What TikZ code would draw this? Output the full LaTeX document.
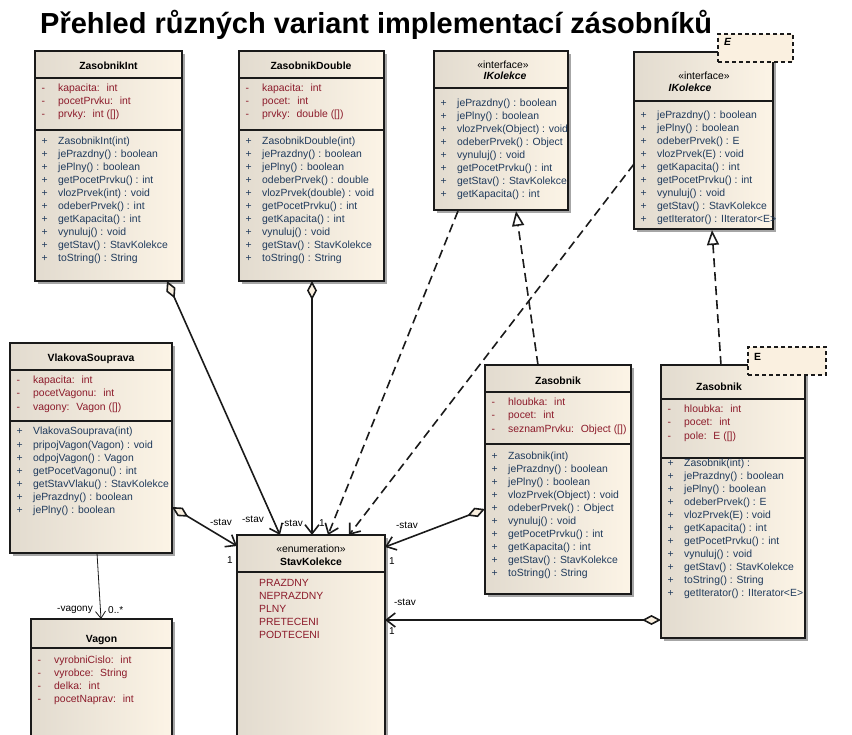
\documentclass[tikz,border=0pt]{standalone}
\usepackage{fontspec}
\setmainfont{Liberation Sans}
\usetikzlibrary{arrows.meta,shadows}
\definecolor{attrc}{HTML}{8C1A2A}
\definecolor{opc}{HTML}{1F3A5C}
\definecolor{boxl}{HTML}{E2DBCF}
\definecolor{boxr}{HTML}{FCF4E6}
\definecolor{cream}{HTML}{FAF0E0}
\definecolor{edge}{HTML}{1A1A1A}
\tikzset{
  classbox/.style={draw=edge, line width=1.6pt, left color=boxl, right color=boxr,
    inner sep=0pt, outer sep=0pt, anchor=north west,
    drop shadow={shadow xshift=3pt, shadow yshift=-3pt, fill=black!35, opacity=1}},
  tmplbox/.style={draw=edge, line width=1.1pt, dash pattern=on 4pt off 3pt, fill=cream,
    inner sep=0pt, outer sep=0pt, anchor=north west},
  sepline/.style={draw=edge, line width=1.6pt},
  member/.style={anchor=base west, inner sep=0pt, font=\fontsize{10.4}{12}\selectfont},
  cname/.style={anchor=base, inner sep=0pt, font=\fontsize{10.4}{12}\selectfont\bfseries},
  stereo/.style={anchor=base, inner sep=0pt, font=\fontsize{10.4}{12}\selectfont},
  lbl/.style={inner sep=0pt, font=\fontsize{10}{12}\selectfont},
  agg/.style={draw=edge, line width=1.6pt,
    arrows={Diamond[fill=cream,length=19pt,width=10pt]-Straight Barb[length=9pt,width=14pt]}},
  dep/.style={draw=edge, line width=1.6pt, dash pattern=on 9pt off 5pt,
    arrows={-Straight Barb[length=9pt,width=14pt]}},
  real/.style={draw=edge, line width=1.6pt, dash pattern=on 9pt off 5pt,
    arrows={-Triangle[open,length=15pt,width=12pt]}},
  nav/.style={draw=edge, line width=0.8pt, arrows={-Straight Barb[length=7pt,width=10pt]}},
}
\newcommand\mlist[6]{%
  \foreach \t [count=\i] in {#6} {
    \node[member, text=#4] (#1\i) at (#2, {#3+4+13*(\i-1)}) {\makebox[16.5pt][l]{#5}\t};
  }%
}
\begin{document}
\begin{tikzpicture}[x=1pt,y=-1pt]
\useasboundingbox (0,0) rectangle (852,735);
\clip (0,0) rectangle (852,735);

\node[anchor=base west, inner sep=0pt, font=\fontsize{29}{34}\selectfont\bfseries] (title) at (40,34)
  {Přehled různých variant implementací zásobníků};

% ZasobnikInt
\node[classbox, minimum width=147pt, minimum height=230pt] (zint) at (35,51) {};
\draw[sepline] (35,78) -- (182,78);
\draw[sepline] (35,130) -- (182,130);
\node[cname] (zint-n) at (108.5,70) {ZasobnikInt};
\mlist{zint-a}{41.5}{88}{attrc}{-}{kapacita:~ int, pocetPrvku:~ int, {prvky:~ int ([])}}
\mlist{zint-m}{41.5}{141}{opc}{+}{ZasobnikInt(int), jePrazdny() : boolean, jePlny() : boolean,
  getPocetPrvku() : int, vlozPrvek(int) : void, odeberPrvek() : int, getKapacita() : int,
  vynuluj() : void, getStav() : StavKolekce, toString() : String}

% ZasobnikDouble
\node[classbox, minimum width=145pt, minimum height=230pt] (zdbl) at (239,51) {};
\draw[sepline] (239,78) -- (384,78);
\draw[sepline] (239,130) -- (384,130);
\node[cname] (zdbl-n) at (311,70) {ZasobnikDouble};
\mlist{zdbl-a}{245.5}{88}{attrc}{-}{kapacita:~ int, pocet:~ int, {prvky:~ double ([])}}
\mlist{zdbl-m}{245.5}{141}{opc}{+}{ZasobnikDouble(int), jePrazdny() : boolean, jePlny() : boolean,
  odeberPrvek() : double, vlozPrvek(double) : void, getPocetPrvku() : int, getKapacita() : int,
  vynuluj() : void, getStav() : StavKolekce, toString() : String}

% IKolekce
\node[classbox, minimum width=134pt, minimum height=159pt] (ikol) at (434,51) {};
\draw[sepline] (434,88) -- (568,88);
\node[stereo] (ikol-s) at (503,69) {«interface»};
\node[cname, font=\fontsize{10.4}{12}\selectfont\bfseries\itshape] (ikol-n) at (505,80) {IKolekce};
\mlist{ikol-m}{440.5}{103}{opc}{+}{jePrazdny() : boolean, jePlny() : boolean, vlozPrvek(Object) : void,
  odeberPrvek() : Object, vynuluj() : void, getPocetPrvku() : int, getStav() : StavKolekce,
  getKapacita() : int}

% IKolekce<E>
\node[classbox, minimum width=139pt, minimum height=177pt] (ikolE) at (634,52) {};
\draw[sepline] (634,101) -- (773,101);
\node[stereo] (ikolE-s) at (704,80) {«interface»};
\node[cname, font=\fontsize{10.4}{12}\selectfont\bfseries\itshape] (ikolE-n) at (690,92) {IKolekce};
\mlist{ikolE-m}{640.5}{115}{opc}{+}{jePrazdny() : boolean, jePlny() : boolean, odeberPrvek() : E,
  vlozPrvek(E) : void, getKapacita() : int, getPocetPrvku() : int, vynuluj() : void,
  getStav() : StavKolekce, getIterator() : IIterator<E>}
\node[tmplbox, minimum width=75pt, minimum height=28pt] (ikolE-t) at (718,34) {};
\node[member, font=\fontsize{10.4}{12}\selectfont\bfseries\itshape] (ikolE-e) at (724,46) {E};

% VlakovaSouprava
\node[classbox, minimum width=162pt, minimum height=210pt] (vlak) at (10,343) {};
\draw[sepline] (10,370) -- (172,370);
\draw[sepline] (10,421) -- (172,421);
\node[cname] (vlak-n) at (91,362) {VlakovaSouprava};
\mlist{vlak-a}{16.5}{380}{attrc}{-}{kapacita:~ int, pocetVagonu:~ int, {vagony:~ Vagon ([])}}
\mlist{vlak-m}{16.5}{431}{opc}{+}{VlakovaSouprava(int), pripojVagon(Vagon) : void, odpojVagon() : Vagon,
  getPocetVagonu() : int, getStavVlaku() : StavKolekce, jePrazdny() : boolean, jePlny() : boolean}

% Vagon
\node[classbox, minimum width=141pt, minimum height=126pt] (vagon) at (31,619) {};
\draw[sepline] (31,648) -- (172,648);
\node[cname] (vagon-n) at (101.5,642) {Vagon};
\mlist{vagon-a}{37.5}{659}{attrc}{-}{vyrobniCislo:~ int, vyrobce:~ String, delka:~ int, pocetNaprav:~ int}

% Zasobnik
\node[classbox, minimum width=146pt, minimum height=229pt] (zas) at (485,365) {};
\draw[sepline] (485,392) -- (631,392);
\draw[sepline] (485,444) -- (631,444);
\node[cname] (zas-n) at (558,385) {Zasobnik};
\mlist{zas-a}{491.5}{402}{attrc}{-}{hloubka:~ int, pocet:~ int, {seznamPrvku:~ Object ([])}}
\mlist{zas-m}{491.5}{455}{opc}{+}{Zasobnik(int), jePrazdny() : boolean, jePlny() : boolean,
  vlozPrvek(Object) : void, odeberPrvek() : Object, vynuluj() : void, getPocetPrvku() : int,
  getKapacita() : int, getStav() : StavKolekce, toString() : String}

% Zasobnik<E>
\node[classbox, minimum width=144pt, minimum height=273pt] (zasE) at (661,365) {};
\draw[sepline] (661,399) -- (805,399);
\draw[sepline] (661,458) -- (805,458);
\node[cname] (zasE-n) at (719,391) {Zasobnik};
\mlist{zasE-a}{667.5}{409}{attrc}{-}{hloubka:~ int, pocet:~ int, {pole:~ E ([])}}
\mlist{zasE-m}{667.5}{462}{opc}{+}{Zasobnik(int) :, jePrazdny() : boolean, jePlny() : boolean,
  odeberPrvek() : E, vlozPrvek(E) : void, getKapacita() : int, getPocetPrvku() : int,
  vynuluj() : void, getStav() : StavKolekce, toString() : String, getIterator() : IIterator<E>}
\node[tmplbox, minimum width=78pt, minimum height=28pt] (zasE-t) at (748,347) {};
\node[member, font=\fontsize{10.4}{12}\selectfont\bfseries] (zasE-e) at (754,361) {E};

% StavKolekce
\node[classbox, minimum width=148pt, minimum height=215pt] (stav) at (237,535) {};
\draw[sepline] (237,572) -- (385,572);
\node[stereo] (stav-s) at (311,552) {«enumeration»};
\node[cname] (stav-n) at (311,565) {StavKolekce};
\foreach \t [count=\i] in {PRAZDNY, NEPRAZDNY, PLNY, PRETECENI, PODTECENI} {
  \node[member, text=attrc] (stav-l\i) at (259, {586+13*(\i-1)}) {\t};
}

% connector end points
\coordinate (zint-p) at (167,281);   \coordinate (stav-p1) at (280,535);
\coordinate (zdbl-p) at (312,281);   \coordinate (stav-p2) at (312,535);
\coordinate (ikol-p) at (458,211);   \coordinate (stav-p3) at (328,535);
\coordinate (ikolE-p) at (634,164);  \coordinate (stav-p4) at (349,535);
\coordinate (vlak-p) at (172,507);   \coordinate (stav-p5) at (237,546);
\coordinate (zas-p) at (485,509);    \coordinate (stav-p6) at (385,547);
\coordinate (zasE-p) at (661,620);   \coordinate (stav-p7) at (385,620);
\coordinate (zas-top) at (538,365);  \coordinate (ikol-b) at (516,211);
\coordinate (zasE-top) at (721,365); \coordinate (ikolE-b) at (712,230);
\coordinate (vlak-b) at (97,553);    \coordinate (vagon-t) at (101,619);

\draw[agg] (zint-p) -- (stav-p1);
\draw[agg] (zdbl-p) -- (stav-p2);
\draw[dep] (ikol-p) -- (stav-p3);
\draw[dep] (ikolE-p) -- (stav-p4);
\draw[agg] (vlak-p) -- (stav-p5);
\draw[agg] (zas-p) -- (stav-p6);
\draw[agg] (zasE-p) -- (stav-p7);
\draw[real] (zas-top) -- (ikol-b);
\draw[real] (zasE-top) -- (ikolE-b);
\draw[nav] (vlak-b) -- (vagon-t);

% role labels
\node[lbl] (l1) at (221,522) {-stav};
\node[lbl] (l2) at (253,519) {-stav};
\node[lbl] (l3) at (292,523) {-stav};
\node[lbl] (l4) at (322,523) {1};
\node[lbl] (l5) at (230,560) {1};
\node[lbl] (l6) at (407,525) {-stav};
\node[lbl] (l7) at (392,561) {1};
\node[lbl] (l8) at (405,602) {-stav};
\node[lbl] (l9) at (392,631) {1};
\node[lbl, anchor=east] (l10) at (93,610) {-vagony};
\node[lbl, anchor=west] (l11) at (108,610) {0..*};
\end{tikzpicture}
\end{document}
